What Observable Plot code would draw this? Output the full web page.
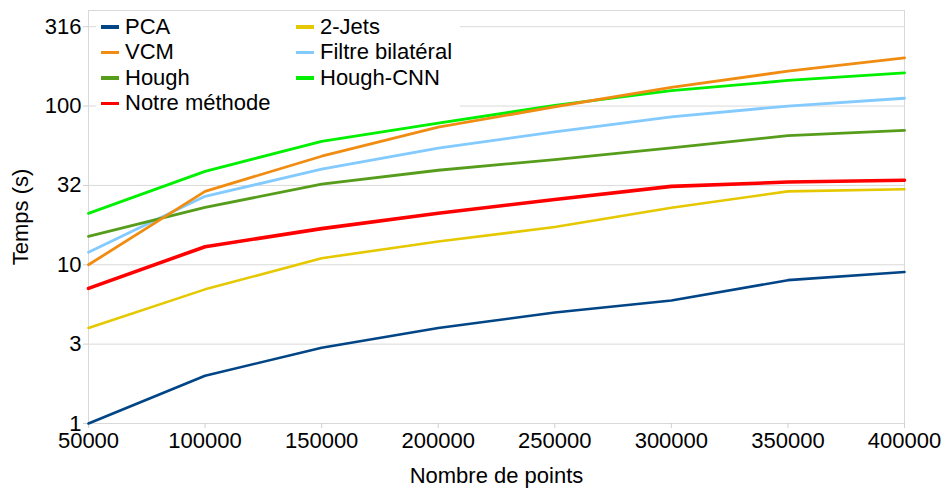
<!DOCTYPE html>
<html>
<head>
<meta charset="utf-8">
<script src="https://cdn.jsdelivr.net/npm/d3@7"></script>
<script src="https://cdn.jsdelivr.net/npm/@observablehq/plot@0.6"></script>
<style>
  body { margin: 0; background: #fff; }
  #wrap { position: relative; width: 945px; height: 488px; font-family: "Liberation Sans", Arial, sans-serif; }
  #legend { position: absolute; left: 96px; top: 14px; width: 364px; height: 102px; background: #fff;
            display: grid; grid-template-columns: 195px 169px; grid-auto-rows: 25.5px; padding-top: 0; box-sizing: border-box; }
  .item { display: flex; align-items: center; font-size: 22px; color: #000; white-space: nowrap; }
  .sw { display: inline-block; width: 18px; height: 3.5px; margin-left: 5px; margin-right: 6px; }
</style>
</head>
<body>
<div id="wrap"></div>
<script>
const xValues = [50000, 100000, 150000, 200000, 250000, 300000, 350000, 400000];
const xTickValues = [50000, 100000, 150000, 200000, 250000, 300000, 350000, 400000];
const yTickValues = [1, 3.1623, 10, 31.623, 100, 316.23];
const yTickLabels = ["1", "3", "10", "32", "100", "316"];

const seriesNames = ["PCA", "2-Jets", "VCM", "Filtre bilatéral", "Hough", "Hough-CNN", "Notre méthode"];
const pca      = [1.0, 2.0, 3.0, 4.0, 5.0, 5.95, 8.0, 9.0];
const jets2    = [4.0, 7.0, 11.0, 14.0, 17.3, 22.9, 29.0, 29.9];
const vcm      = [10.0, 29.0, 48.3, 73.6, 99, 131, 166, 201];
const filtre   = [12.0, 27.0, 40.0, 54.3, 68.7, 85.5, 100, 112];
const hough    = [15.1, 23.0, 32.2, 39.4, 46.0, 54.5, 65.2, 70.2];
const houghCnn = [21.1, 38.8, 60.0, 78.0, 101, 125, 145, 162];
const notre    = [7.1, 13.0, 16.9, 21.1, 25.8, 31.2, 33.2, 34.1];

const seriesValues = [pca, jets2, vcm, filtre, hough, houghCnn, notre];
const colors = ["#004586", "#e6c800", "#f08c12", "#83caff", "#579d1c", "#00f000", "#ff0000"];
const widths = [2.6, 2.6, 2.8, 2.8, 2.8, 2.8, 3.6];
const drawOrder = [0, 1, 3, 4, 5, 2, 6];

const lineMarks = drawOrder.map(k => {
  const rows = xValues.map((x, i) => ({x, t: seriesValues[k][i]}));
  return Plot.line(rows, {x: "x", y: "t", stroke: colors[k], strokeWidth: widths[k], strokeLinejoin: "round"});
});

const chart = Plot.plot({
  width: 945,
  height: 488,
  marginTop: 10,
  marginBottom: 65,
  marginLeft: 88,
  marginRight: 41,
  style: {fontFamily: "'Liberation Sans', Arial, sans-serif", fontSize: "21px", color: "#000", background: "#fff"},
  x: {domain: [50000, 400000]},
  y: {type: "log", domain: [1, 400]},
  marks: [
    Plot.gridY(yTickValues, {stroke: "#d9d9d9", strokeOpacity: 1}),
    Plot.frame({stroke: "#d9d9d9"}),
    Plot.axisY(yTickValues, {
      tickFormat: d => yTickLabels[yTickValues.indexOf(d)],
      tickSize: 5, tickPadding: 2, stroke: "#d0d0d0", fill: "#000", fontSize: 22,
      label: "Temps (s)", labelAnchor: "center", labelArrow: "none", labelOffset: 76
    }),
    Plot.axisX(xTickValues, {
      tickFormat: d => String(d),
      tickSize: 5, tickPadding: 4, stroke: "#d0d0d0", fill: "#000", fontSize: 22,
      label: "Nombre de points", labelAnchor: "center", labelArrow: "none", labelOffset: 59
    }),
    ...lineMarks
  ]
});

const wrap = document.getElementById("wrap");
wrap.appendChild(chart);

const legend = document.createElement("div");
legend.id = "legend";
seriesNames.forEach((name, k) => {
  const item = document.createElement("div");
  item.className = "item";
  const sw = document.createElement("span");
  sw.className = "sw";
  sw.style.background = colors[k];
  item.appendChild(sw);
  item.appendChild(document.createTextNode(name));
  legend.appendChild(item);
});
wrap.appendChild(legend);
</script>
</body>
</html>
